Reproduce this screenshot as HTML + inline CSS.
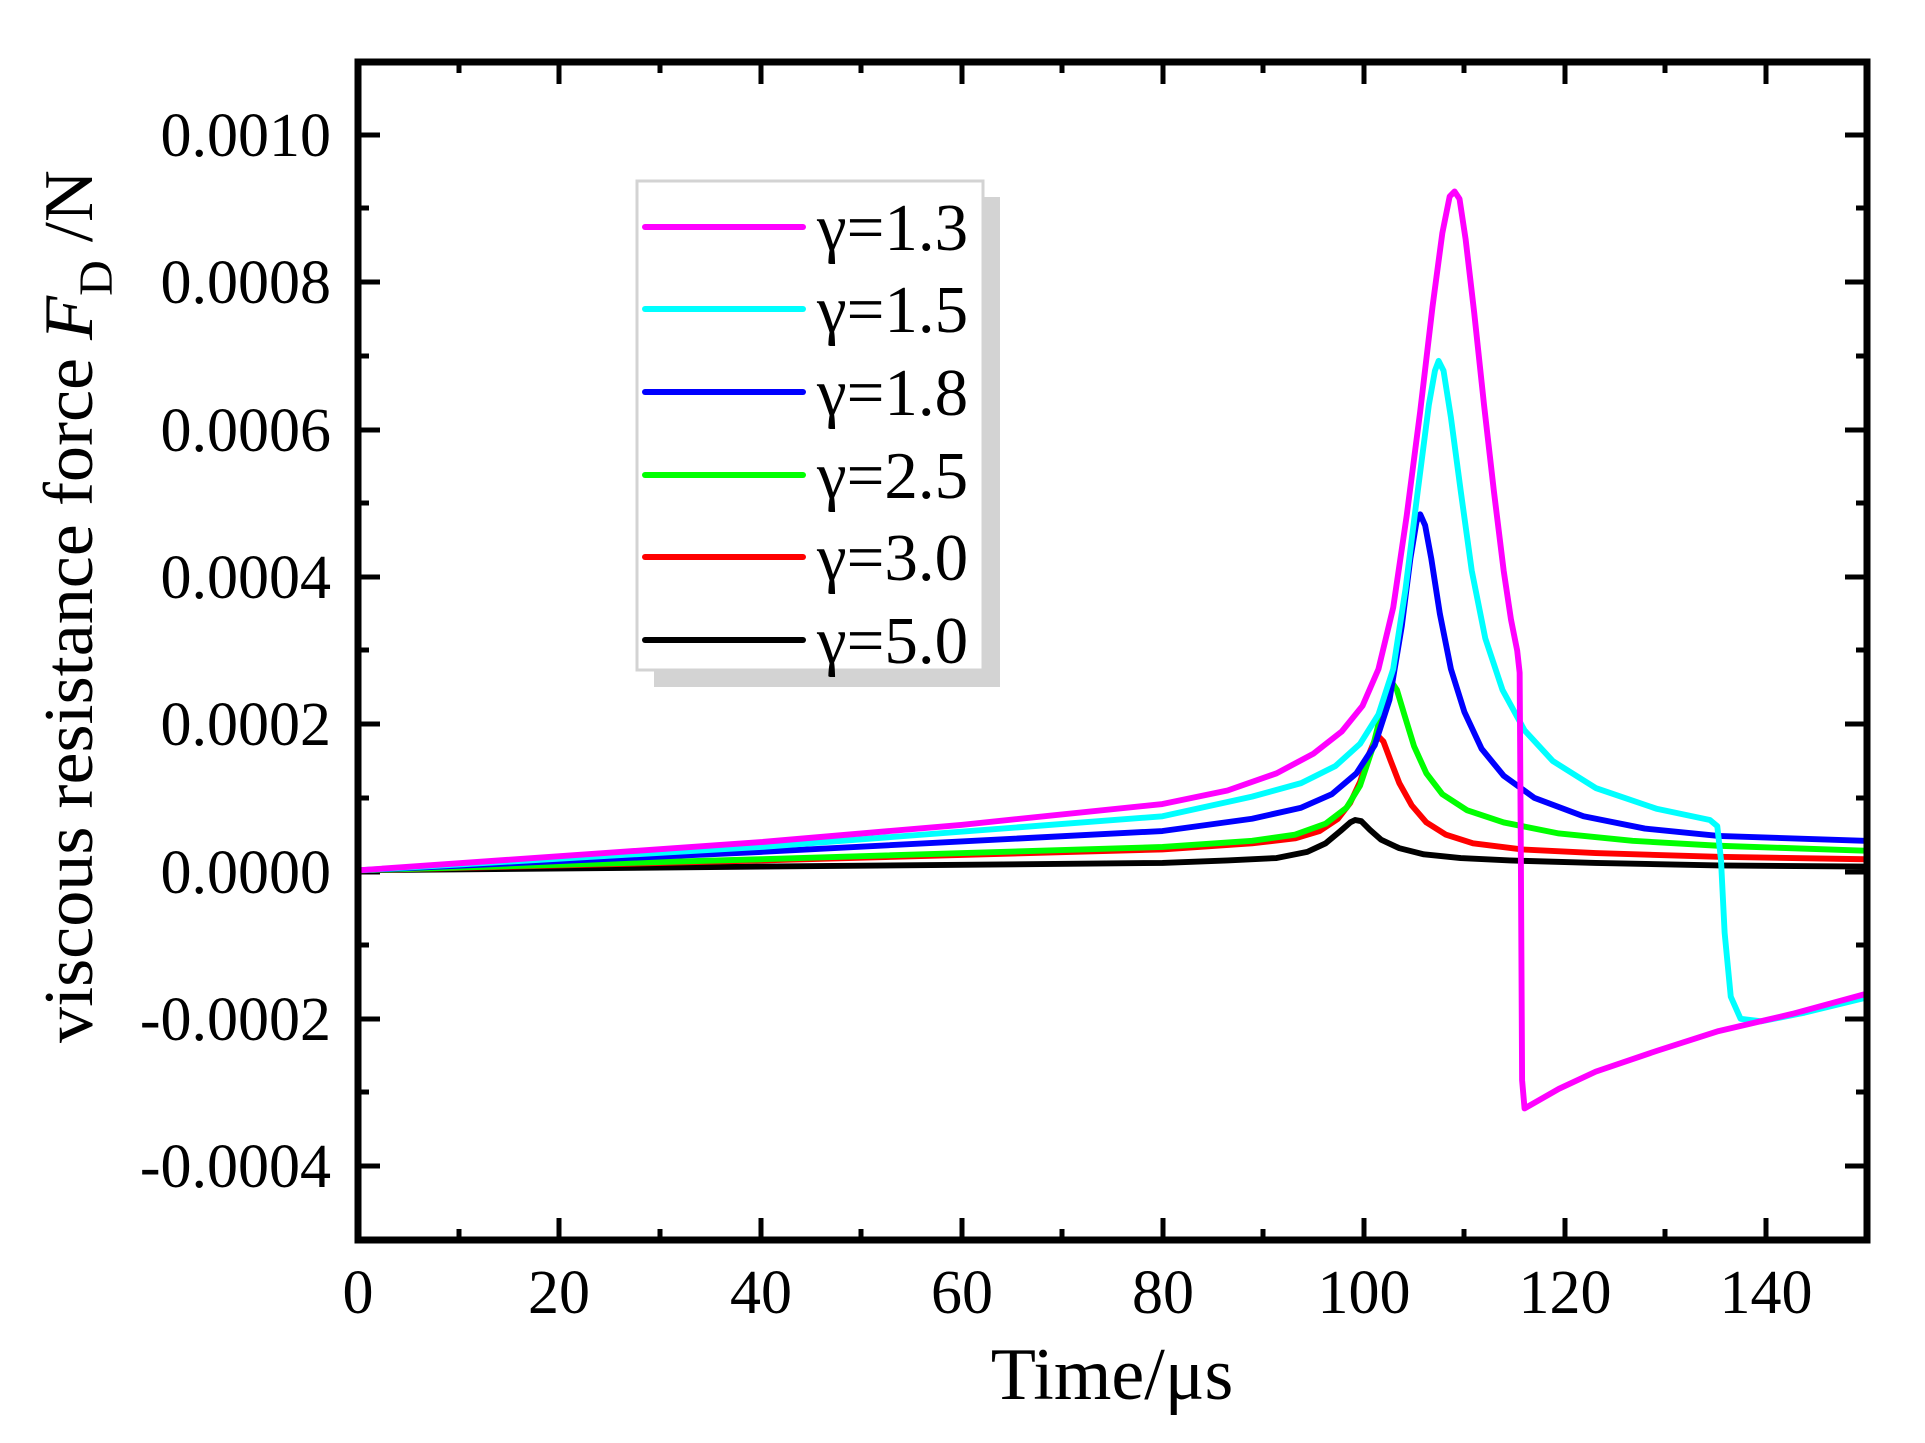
<!DOCTYPE html>
<html><head><meta charset="utf-8"><style>html,body{margin:0;padding:0;background:#fff}svg{display:block}</style></head>
<body>
<svg width="1925" height="1443" viewBox="0 0 1925 1443" xmlns="http://www.w3.org/2000/svg" font-family="'Liberation Serif', serif">
<rect width="1925" height="1443" fill="#fff"/>
<!-- ticks -->
<g stroke="#000" stroke-width="5">
<path d="M559,1240v-22M761,1240v-22M962,1240v-22M1163,1240v-22M1364,1240v-22M1565,1240v-22M1766,1240v-22
M459,1240v-11M660,1240v-11M861,1240v-11M1062,1240v-11M1263,1240v-11M1464,1240v-11M1665,1240v-11
M559,62v22M761,62v22M962,62v22M1163,62v22M1364,62v22M1565,62v22M1766,62v22
M459,62v11M660,62v11M861,62v11M1062,62v11M1263,62v11M1464,62v11M1665,62v11M1867,62v11"/>
<path d="M358,135h22M358,282h22M358,430h22M358,577h22M358,724h22M358,872h22M358,1019h22M358,1166h22
M358,208h11M358,356h11M358,503h11M358,650h11M358,798h11M358,945h11M358,1092h11
M1867,135h-22M1867,282h-22M1867,430h-22M1867,577h-22M1867,724h-22M1867,872h-22M1867,1019h-22M1867,1166h-22
M1867,208h-11M1867,356h-11M1867,503h-11M1867,650h-11M1867,798h-11M1867,945h-11M1867,1092h-11"/>
</g>
<!-- curves -->
<g transform="scale(1.2275)" fill="none" stroke-width="4.8" stroke-linejoin="round" stroke-linecap="round">
<polyline stroke="#000" points="292,709 620,706 947,703 1000,701 1040,699 1065,694 1080,687 1092,677 1100,670 1104,668 1109,669 1116,676 1125,684 1140,691 1160,696 1190,699 1230,701 1300,703 1400,705 1519,706"/>
<polyline stroke="#f00" points="292,709 620,701 947,692 1020,687 1055,683 1075,677 1090,667 1100,654 1108,637 1115,615 1120,603 1123,600 1127,604 1133,620 1140,638 1150,656 1162,670 1178,680 1200,687 1240,692 1300,695 1400,698 1519,700"/>
<polyline stroke="#0f0" points="292,709 620,700 947,690 1020,685 1055,680 1080,671 1097,658 1108,640 1118,610 1126,578 1131,560 1134,556 1138,562 1144,582 1152,608 1162,630 1175,647 1195,660 1225,670 1270,679 1330,685 1400,689 1519,693"/>
<polyline stroke="#00f" points="292,709 620,694 947,677 1020,667 1060,658 1085,647 1105,630 1120,607 1132,570 1142,510 1149,455 1154,425 1157,419 1161,428 1166,455 1173,500 1182,545 1193,580 1207,610 1225,632 1250,650 1290,665 1340,675 1400,681 1519,685"/>
<polyline stroke="#0ff" points="292,709 620,690 947,665 1020,649 1060,638 1088,624 1108,606 1123,582 1135,545 1145,480 1155,400 1164,330 1169,302 1172,294 1176,302 1182,340 1190,400 1199,465 1210,520 1224,562 1242,595 1265,620 1300,642 1350,659 1393,668 1399,673 1402,700 1405,760 1410,812 1418,830 1435,832 1470,825 1519,813"/>
<polyline stroke="#f0f" points="292,709 620,686 783,672 947,655 1000,644 1040,630 1070,614 1093,596 1110,575 1123,545 1135,495 1146,420 1157,335 1167,250 1175,190 1181,160 1185,156 1189,162 1194,195 1201,255 1209,330 1217,400 1225,465 1231,505 1236,530 1238,548 1239,700 1240,880 1242,903 1270,887 1300,873 1350,856 1400,840 1460,826 1519,810"/>
</g>
<!-- frame -->
<rect x="358" y="62" width="1509" height="1178" fill="none" stroke="#000" stroke-width="7"/>
<!-- tick labels -->
<g font-size="62" text-anchor="end">
<text x="331" y="156">0.0010</text>
<text x="331" y="303">0.0008</text>
<text x="331" y="451">0.0006</text>
<text x="331" y="598">0.0004</text>
<text x="331" y="745">0.0002</text>
<text x="331" y="893">0.0000</text>
<text x="331" y="1040">-0.0002</text>
<text x="331" y="1187">-0.0004</text>
</g>
<g font-size="62" text-anchor="middle">
<text x="358" y="1313">0</text><text x="559" y="1313">20</text><text x="761" y="1313">40</text><text x="962" y="1313">60</text><text x="1163" y="1313">80</text><text x="1364" y="1313">100</text><text x="1565" y="1313">120</text><text x="1766" y="1313">140</text>
</g>
<text x="1112" y="1399" font-size="74" text-anchor="middle">Time/μs</text>
<text transform="translate(92,1043) rotate(-90)" font-size="70" textLength="873" lengthAdjust="spacingAndGlyphs">viscous resistance force <tspan font-style="italic">F</tspan><tspan font-size="48" dy="20">D</tspan><tspan dy="-20"> /N</tspan></text>
<!-- legend -->
<rect x="654" y="197" width="346" height="490" fill="#d3d3d3"/>
<rect x="637" y="181" width="346" height="489" fill="#fff" stroke="#d3d3d3" stroke-width="3"/>
<g stroke-width="6" stroke-linecap="round">
<line x1="645" y1="227" x2="803" y2="227" stroke="#f0f"/>
<line x1="645" y1="309" x2="803" y2="309" stroke="#0ff"/>
<line x1="645" y1="392" x2="803" y2="392" stroke="#00f"/>
<line x1="645" y1="475" x2="803" y2="475" stroke="#0f0"/>
<line x1="645" y1="557" x2="803" y2="557" stroke="#f00"/>
<line x1="645" y1="640" x2="803" y2="640" stroke="#000"/>
</g>
<g font-size="67">
<text x="817" y="250">γ=1.3</text>
<text x="817" y="332">γ=1.5</text>
<text x="817" y="415">γ=1.8</text>
<text x="817" y="498">γ=2.5</text>
<text x="817" y="580">γ=3.0</text>
<text x="817" y="663">γ=5.0</text>
</g>
</svg>
</body></html>
